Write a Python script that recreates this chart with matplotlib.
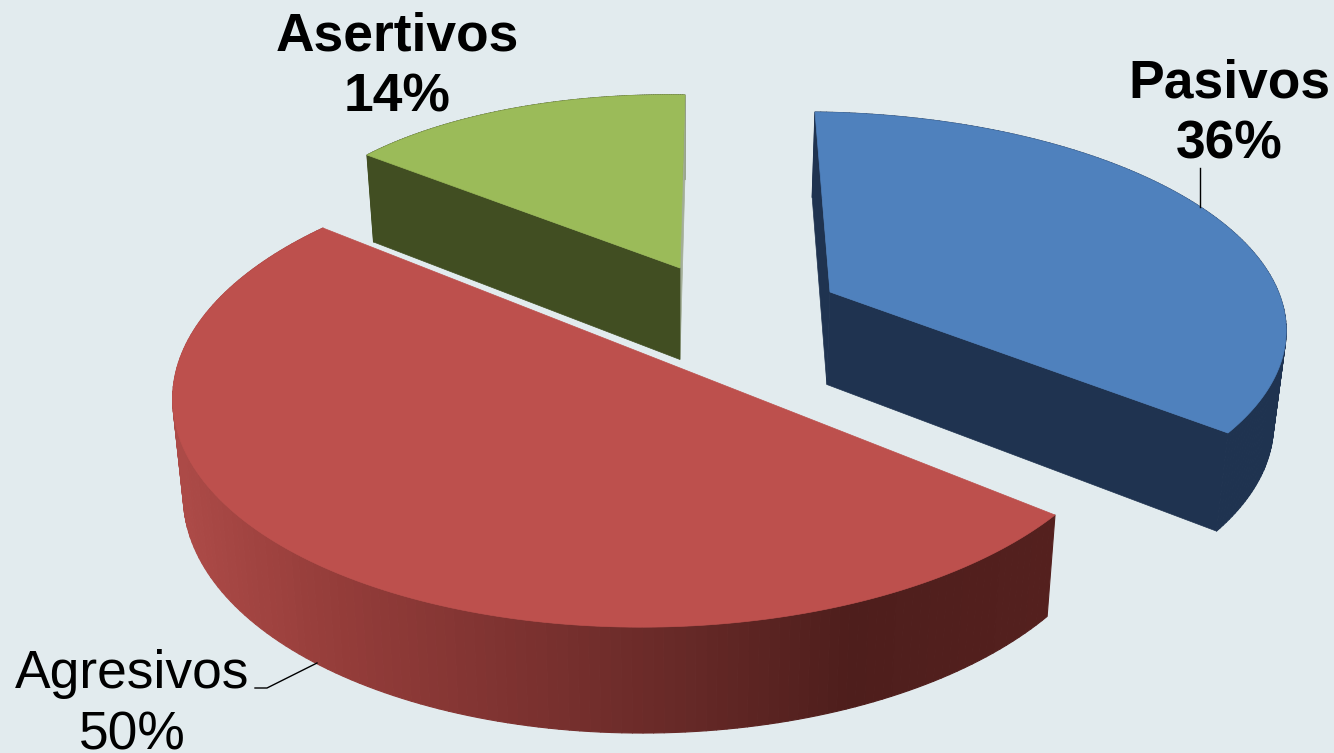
import numpy as np, matplotlib
matplotlib.use('Agg')
import matplotlib.pyplot as plt
from matplotlib.collections import PolyCollection
from matplotlib.colors import to_rgb

categories = ['Pasivos', 'Agresivos', 'Asertivos']
values = [36, 50, 14]
top_colors = ['#4F81BD', '#BD504D', '#9BBB59']
cut_colors = ['#1F3350', '#4E1E1C', '#414E22']
first_cut_colors = ['#1F3350', '#4E1E1C', '#A3AE97']

edges = np.cumsum(np.r_[0, values]) / sum(values) * 2 * np.pi
mid = (edges[:-1] + edges[1:]) / 2

def d(t):
    t = np.asarray(t)
    return np.stack([np.sin(t), np.cos(t)], -1)

# perspective calibration of each exploded slice: fractions of the slice's sweep
# (None = its centre) and where those world points land in the picture
anchors = [
    [None, 0, 1, 0.5],
    [0, 1, 0.25, 0.75],
    [None, 0, 1, 0.5],
]
calibration = [
    [(830, 292), (815, 112), (1228, 433), (1205, 210)],
    [(1055, 515), (323, 228), (720, 624), (173, 390)],
    [(680, 268), (685, 95), (367, 155), (510, 109)],
]

def homography(i):
    W = [(0, 0) if f is None else d(edges[i] + f * (edges[i + 1] - edges[i])) for f in anchors[i]]
    A = []
    for (X, Y), (x, y) in zip(W, calibration[i]):
        A.append([X, Y, 1, 0, 0, 0, -x * X, -x * Y, -x])
        A.append([0, 0, 0, X, Y, 1, -y * X, -y * Y, -y])
    H = np.linalg.svd(np.array(A))[2][-1].reshape(3, 3)
    return H / H[2, 2]

def proj(H, W):
    W = np.atleast_2d(W)
    P = (H @ np.c_[W, np.ones(len(W))].T).T
    return P[:, :2] / P[:, 2:]

def extrude(P):
    return np.c_[P[:, 0] - 0.021 * (P[:, 0] - 680), P[:, 1] + 87 + 0.04 * (P[:, 1] - 155)]

stops_x = [180, 330, 500, 700, 850, 1050]
stops_c = ['#AC4A47', '#953D3A', '#7F3331', '#642826', '#4E1E1C', '#54201E']
stops_rgb = np.array([to_rgb(c) for c in stops_c])
def red_shade(x):
    return [np.interp(x, stops_x, stops_rgb[:, k]) for k in range(3)]

fig = plt.figure(figsize=(13.34, 7.53), dpi=100, facecolor='#E2EBEE')
ax = fig.add_axes([0, 0, 1, 1]); ax.set_xlim(0, 1334); ax.set_ylim(753, 0); ax.axis('off')

for i in [2, 0, 1]:
    H = homography(i)
    t = np.linspace(edges[i], edges[i + 1], 160)
    A = proj(H, d(t)); B = extrude(A)
    ap = proj(H, (0, 0)); apb = extrude(ap)
    quads = [[A[j], A[j + 1], B[j + 1], B[j]] for j in range(len(t) - 1)]
    cols = [red_shade((A[j, 0] + A[j + 1, 0]) / 2) if i == 1 else cut_colors[i] for j in range(len(t) - 1)]
    ax.add_collection(PolyCollection(quads, facecolors=cols, edgecolors=cols, linewidths=0.8, zorder=i * 3 + 1))
    if i != 1:
        for e, eb, c in [(A[0], B[0], first_cut_colors[i]), (A[-1], B[-1], cut_colors[i])]:
            ax.fill([ap[0, 0], e[0], eb[0], apb[0, 0]], [ap[0, 1], e[1], eb[1], apb[0, 1]], color=c, lw=0.5, zorder=i * 3 + 2)
    P = np.r_[ap, A]
    ax.fill(P[:, 0], P[:, 1], color=top_colors[i], lw=0.5, zorder=i * 3 + 3)

F = dict(family='Liberation Sans', fontsize=38.4, color='black', ha='center', va='baseline', zorder=20)
ax.text(397, 50, categories[2], fontweight='bold', **F); ax.text(397, 111, f'{values[2]}%', fontweight='bold', **F)
ax.text(1229, 97, categories[0], fontweight='bold', **F); ax.text(1229, 158, f'{values[0]}%', fontweight='bold', **F)
ax.text(132, 688, categories[1], **F); ax.text(132, 749, f'{values[1]}%', **F)
ax.plot([1200, 1200], [168, 207], color='black', lw=1, zorder=20)
ax.plot([255, 267, 317], [688, 688, 663], color='black', lw=1, zorder=20)
fig.savefig('out.png', dpi=100, facecolor=fig.get_facecolor())
